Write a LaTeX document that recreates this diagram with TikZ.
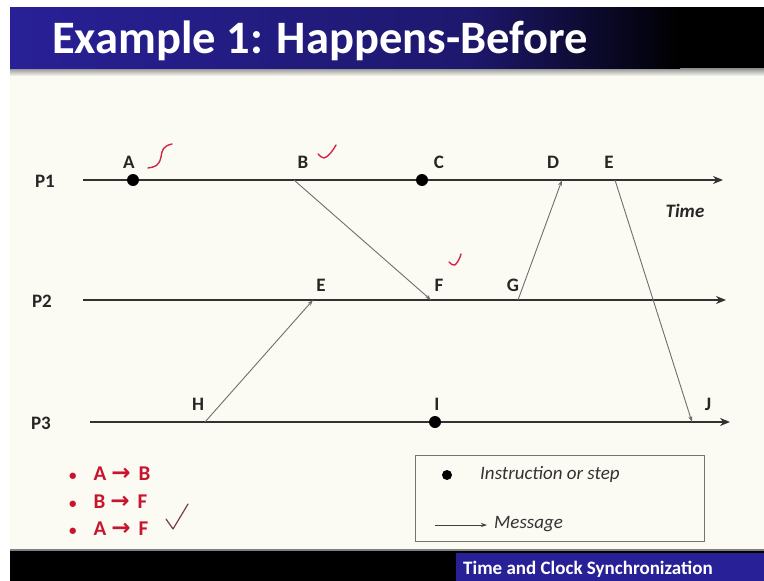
\documentclass[tikz,border=0pt]{standalone}
\usepackage{fontspec}
\setmainfont{Carlito}
\newfontfamily\arrowfont{DejaVu Sans}
\usetikzlibrary{arrows.meta}
\definecolor{bgcream}{RGB}{251,251,243}
\definecolor{titleblue}{RGB}{40,32,150}
\definecolor{titleblue2}{RGB}{30,24,110}
\definecolor{linegray}{RGB}{50,50,50}
\definecolor{msggray}{RGB}{110,110,110}
\definecolor{checkred}{RGB}{210,40,70}
\definecolor{listred}{RGB}{200,20,45}
\definecolor{checkdark}{RGB}{120,60,80}
\newcommand{\redarrow}{\hspace{5pt}{\arrowfont\bfseries\fontsize{23}{23}\selectfont→}\hspace{8pt}}
\newcommand{\smallbul}{{\fontsize{15}{15}\selectfont\textbullet}}
\begin{document}
\begin{tikzpicture}[x=1pt,y=-1pt,
  proc/.style={draw=linegray,line width=2.2pt,-{Stealth[length=10pt,width=8pt]}},
  msg/.style={draw=msggray,line width=0.9pt,-{Stealth[length=6pt,width=4pt]}},
  lbl/.style={font=\fontsize{19}{22}\selectfont\bfseries,text=black!85,inner sep=0pt},
  plbl/.style={font=\fontsize{19}{22}\selectfont\bfseries,text=black!85,inner sep=0pt},
  evdot/.style={circle,fill=black,minimum size=12pt,inner sep=0pt},
  chk/.style={draw=checkred,line width=1.4pt,line cap=round,line join=round},
  bul/.style={font=\fontsize{21}{22}\selectfont\bfseries,text=listred,anchor=west,inner sep=0pt},
  legtxt/.style={font=\fontsize{19}{22}\selectfont\itshape,text=black!80,anchor=west,inner sep=0pt}]
\useasboundingbox (0,0) rectangle (764,581);
% backgrounds
\fill[white] (0,0) rectangle (764,581);
\fill[bgcream] (10,68) rectangle (764,551);
\shade[top color=black!45,bottom color=bgcream] (10,68) rectangle (764,76);
% title bar
\shade[left color=titleblue,right color=titleblue2] (10,7) rectangle (470,68);
\shade[left color=titleblue2,right color=black] (469,7) rectangle (680,68);
\fill[black] (679,7) rectangle (764,68);
\node[anchor=base west,inner sep=0pt,text=white,font=\fontsize{46.5}{50}\selectfont\bfseries] (title) at (52,53) {Example 1: Happens-Before};
% bottom bar
\fill[black!50] (10,549) rectangle (764,551);
\fill[black] (10,551) rectangle (764,581);
\fill[titleblue] (456,553) rectangle (764,581);
\node[anchor=base west,inner sep=0pt,text=white,font=\fontsize{19}{22}\selectfont\bfseries] (footer) at (463,574) {Time and Clock Synchronization};
% process lines
\coordinate (p1s) at (83,180); \coordinate (p1e) at (723,180);
\coordinate (p2s) at (83,300); \coordinate (p2e) at (726,300);
\coordinate (p3s) at (90,422); \coordinate (p3e) at (730,422);
\draw[proc] (p1s) -- (p1e);
\draw[proc] (p2s) -- (p2e);
\draw[proc] (p3s) -- (p3e);
\node[plbl] (P1) at (45,181) {P1};
\node[plbl] (P2) at (42,301) {P2};
\node[plbl] (P3) at (41,423) {P3};
% events
\node[evdot] (A) at (133,180) {};
\coordinate (B) at (294,180);
\node[evdot] (C) at (422,180) {};
\coordinate (D) at (562,180);
\coordinate (E1) at (615,180);
\coordinate (E2) at (313,300);
\coordinate (F) at (431,300);
\coordinate (G) at (518,300);
\coordinate (H) at (205,422);
\node[evdot] (I) at (435,422) {};
\coordinate (J) at (692,422);
% labels
\node[lbl] (lA) at (129,162) {A};
\node[lbl] (lB) at (303,162) {B};
\node[lbl] (lC) at (439,162) {C};
\node[lbl] (lD) at (553,162) {D};
\node[lbl] (lE1) at (609,162) {E};
\node[lbl] (lE2) at (321,285) {E};
\node[lbl] (lF) at (439,285) {F};
\node[lbl] (lG) at (513,285) {G};
\node[lbl] (lH) at (198,404) {H};
\node[lbl] (lI) at (437,404) {I};
\node[lbl] (lJ) at (708,404) {J};
\node[inner sep=0pt,font=\fontsize{19}{22}\selectfont\bfseries\itshape,text=black!85] (time) at (685,211) {Time};
% messages
\draw[msg] (B) -- (F);
\draw[msg] (G) -- (D);
\draw[msg] (E1) -- (J);
\draw[msg] (H) -- (E2);
% red checks
\draw[chk] (148,168) .. controls (155,167) and (159,166) .. (161,157) .. controls (162,150) and (163,146) .. (172,144);
\draw[chk] (318,154) .. controls (320,156) and (322,158) .. (324,158) .. controls (328,157) and (332,152) .. (336,145);
\draw[chk] (449,262) .. controls (451,264) and (453,266) .. (455,265) .. controls (458,262) and (460,258) .. (461,254);
% bullet list
\node[bul] (b1) at (69,474) {\smallbul\hspace{17pt}A\redarrow B};
\node[bul] (b2) at (69,502) {\smallbul\hspace{17pt}B\redarrow F};
\node[bul] (b3) at (69,529) {\smallbul\hspace{17pt}A\redarrow F};
\draw[draw=checkdark,line width=1.2pt,line cap=round,line join=round] (166,519) -- (173,529) -- (188,504);
% legend
\draw[draw=black!55,line width=0.9pt] (415,455) rectangle (704,541);
\node[circle,fill=black,minimum size=10pt,inner sep=0pt] (ldot) at (447,475) {};
\node[legtxt] (linst) at (480,474) {Instruction or step};
\coordinate (la1) at (435,525);
\coordinate (la2) at (487,525);
\draw[draw=black!75,line width=0.8pt,-{Stealth[length=6pt,width=4pt]}] (la1) -- (la2);
\node[legtxt] (lmsg) at (494,524) {Message};
\end{tikzpicture}
\end{document}
